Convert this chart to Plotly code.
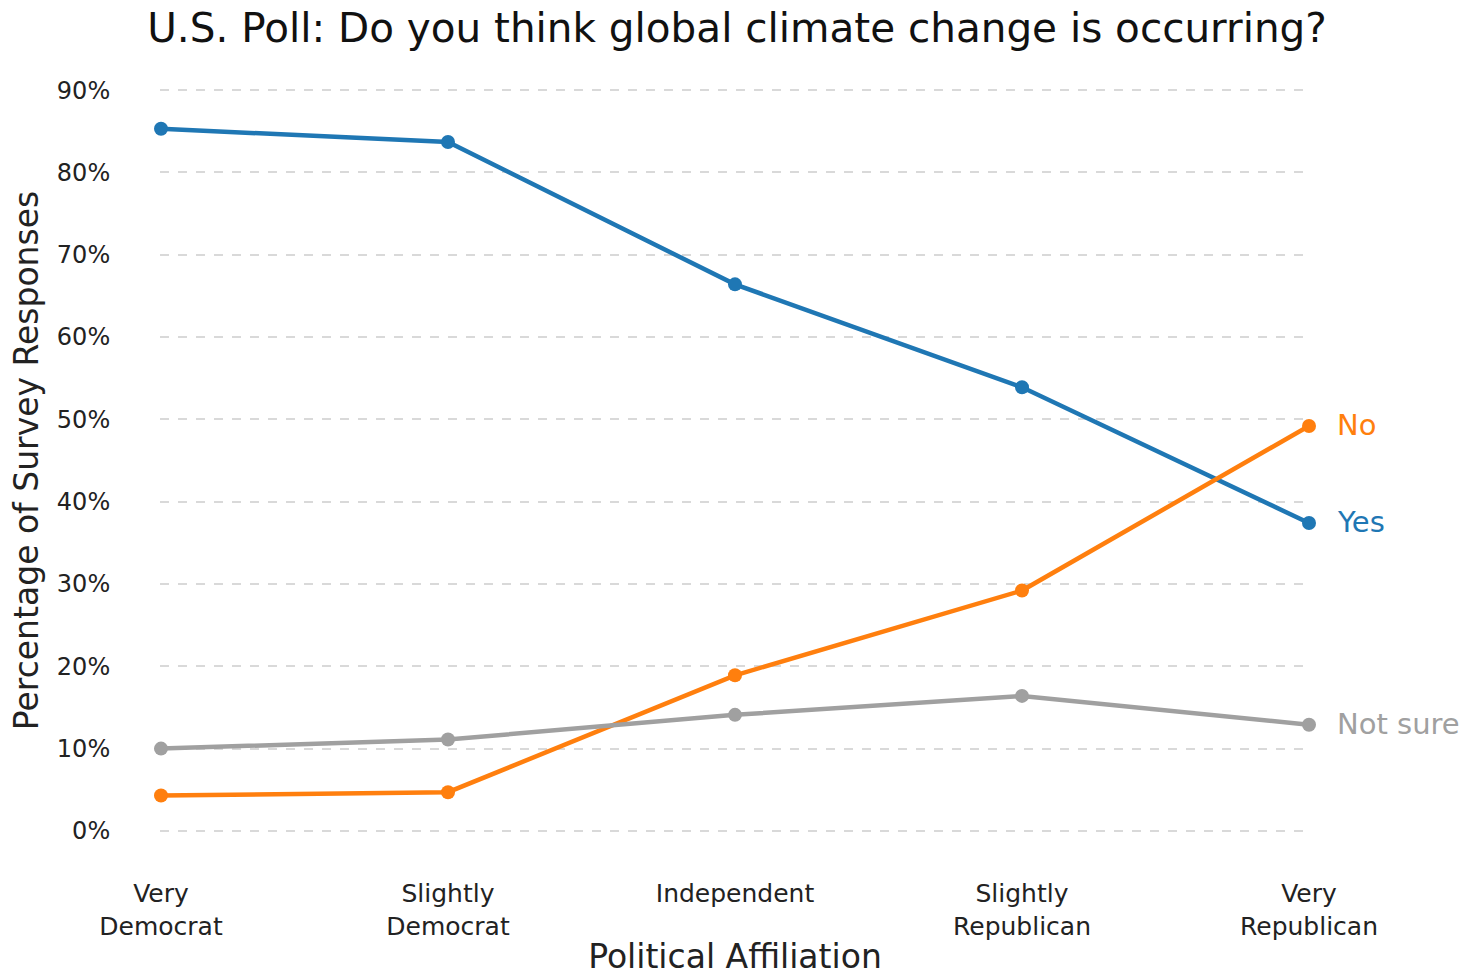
import plotly.graph_objects as go

# Survey data: share of responses by political affiliation
affiliations = ["Very<br>Democrat", "Slightly<br>Democrat", "Independent",
                "Slightly<br>Republican", "Very<br>Republican"]
yes_pct = [85.3, 83.7, 66.4, 53.9, 37.4]
no_pct = [4.3, 4.7, 18.9, 29.2, 49.2]
not_sure_pct = [10.0, 11.1, 14.1, 16.4, 12.9]

series_names = ["Yes", "No", "Not sure"]
series_values = [yes_pct, no_pct, not_sure_pct]
series_colors = ["#1f77b4", "#ff7f0e", "#a0a0a0"]

FONT = "DejaVu Sans"
x_idx = list(range(len(affiliations)))

fig = go.Figure()
for name, vals, color in zip(series_names, series_values, series_colors):
    fig.add_trace(go.Scatter(
        x=x_idx, y=vals, mode="lines+markers", name=name,
        line=dict(color=color, width=4.5),
        marker=dict(color=color, size=14),
        cliponaxis=False, showlegend=False,
    ))
    # direct label at the end of each line
    fig.add_annotation(
        x=x_idx[-1], y=vals[-1], text=name, showarrow=False,
        xanchor="left", xshift=26, yshift=1,
        font=dict(family=FONT, size=29, color=color),
    )

fig.update_layout(
    width=1474, height=976,
    margin=dict(l=160, r=164, t=86, b=141),
    paper_bgcolor="white", plot_bgcolor="white",
    font=dict(family=FONT, color="#222222"),
    title=dict(
        text="U.S. Poll: Do you think global climate change is occurring?",
        x=0.5, xanchor="center", y=0.972, yanchor="middle",
        font=dict(family=FONT, size=40.5, color="#111111"),
    ),
)

fig.update_xaxes(
    range=[-0.0035, 4.0035], automargin=False,
    tickmode="array", tickvals=x_idx, ticktext=affiliations,
    showgrid=False, zeroline=False, showline=False,
    ticks="outside", ticklen=36, tickcolor="rgba(0,0,0,0)",
    tickfont=dict(family=FONT, size=25, color="#222222"),
    title=dict(text="Political Affiliation", standoff=18,
               font=dict(family=FONT, size=33, color="#222222")),
)

fig.update_yaxes(
    range=[-0.5, 90.5], automargin=False,
    tickmode="array", tickvals=list(range(0, 91, 10)),
    ticktext=[f"{v}%" for v in range(0, 91, 10)],
    showgrid=True, gridcolor="#d9d9d9", gridwidth=1.5, griddash="dash",
    zeroline=False, showline=False,
    ticks="outside", ticklen=44, tickcolor="rgba(0,0,0,0)",
    tickfont=dict(family=FONT, size=24, color="#222222"),
    title=dict(text="Percentage of Survey Responses", standoff=8,
               font=dict(family=FONT, size=33, color="#222222")),
)

fig.write_html("out.html")
